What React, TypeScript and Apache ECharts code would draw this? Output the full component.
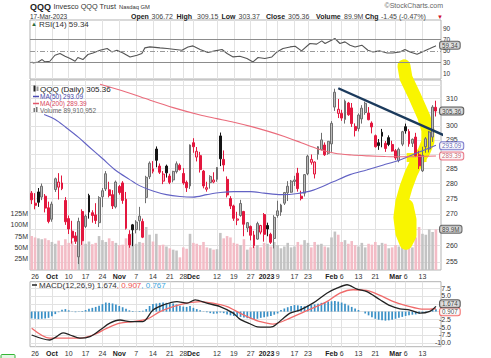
import React, { useEffect, useRef } from 'react';
import * as echarts from 'echarts';

const FONT = '"Liberation Sans", Arial, sans-serif';

// ---------- data ----------
const dates = ['9/23','9/26','9/27','9/28','9/29','9/30','10/3','10/4','10/5','10/6','10/7','10/10','10/11','10/12','10/13','10/14','10/17','10/18','10/19','10/20','10/21','10/24','10/25','10/26','10/27','10/28','10/31','11/1','11/2','11/3','11/4','11/7','11/8','11/9','11/10','11/11','11/14','11/15','11/16','11/17','11/18','11/21','11/22','11/23','11/25','11/28','11/29','11/30','12/1','12/2','12/5','12/6','12/7','12/8','12/9','12/12','12/13','12/14','12/15','12/16','12/19','12/20','12/21','12/22','12/23','12/27','12/28','12/29','12/30','1/3','1/4','1/5','1/6','1/9','1/10','1/11','1/12','1/13','1/17','1/18','1/19','1/20','1/23','1/24','1/25','1/26','1/27','1/30','1/31','2/1','2/2','2/3','2/6','2/7','2/8','2/9','2/10','2/13','2/14','2/15','2/16','2/17','2/21','2/22','2/23','2/24','2/27','2/28','3/1','3/2','3/3','3/6','3/7','3/8','3/9','3/10','3/13','3/14','3/15','3/16','3/17'];

const opens = [276.8,273.5,277.2,275.5,275.8,272.0,268.3,278.0,278.8,280.2,274.4,268.5,264.5,263.0,256.5,270.8,266.0,276.0,270.4,269.7,267.2,275.6,278.2,277.9,276.3,272.3,279.0,280.2,274.8,263.5,266.5,265.0,267.8,267.6,275.4,282.3,284.1,291.8,285.9,280.8,285.9,282.5,281.2,284.0,286.2,283.4,280.4,279.2,294.0,289.0,289.5,284.2,278.1,280.3,280.5,281.4,296.4,288.2,281.4,275.0,272.6,268.0,269.5,270.8,265.5,266.0,263.3,262.0,264.2,269.8,266.3,263.5,262.2,269.5,270.6,273.5,276.9,277.1,280.7,283.5,275.8,276.8,283.3,287.2,283.2,290.0,291.6,293.2,290.3,293.6,306.8,304.5,304.5,302.3,308.3,306.5,299.8,299.0,302.5,304.8,304.6,301.0,296.5,294.0,297.7,293.8,295.8,293.4,291.2,287.8,293.5,299.7,298.0,293.8,296.0,289.8,284.3,292.6,291.8,296.0,306.72];
const highs = [277.5,276.8,278.5,280.0,276.5,274.0,274.0,282.0,283.5,282.7,275.5,269.5,267.8,264.2,268.8,271.5,269.8,276.6,271.2,273.5,275.8,278.5,284.2,280.6,277.8,281.0,279.5,280.8,277.2,264.8,266.8,268.0,272.3,268.5,282.6,287.5,287.6,292.7,286.8,284.2,286.4,283.3,284.3,287.5,286.8,285.2,281.0,293.4,295.6,292.5,290.8,284.6,280.6,282.8,283.8,285.6,297.6,291.3,282.4,275.8,273.0,270.7,274.6,271.0,267.4,266.3,264.6,267.5,266.5,270.3,267.2,264.0,269.6,274.3,273.3,277.2,280.8,281.2,282.6,285.3,277.6,283.2,289.8,289.9,287.5,292.8,297.5,294.1,294.6,301.7,313.6,309.8,305.8,309.6,308.7,308.3,300.9,304.5,307.5,308.8,306.8,301.6,296.9,295.3,298.9,294.6,296.6,294.7,291.8,292.3,298.2,300.8,298.8,295.5,297.5,291.2,292.6,296.0,298.2,307.5,309.15];
const lows = [273.2,271.5,272.3,274.5,270.5,267.0,267.5,277.2,274.7,277.8,266.5,263.6,260.6,260.5,254.3,260.2,265.5,268.5,267.2,266.8,265.8,272.2,277.5,275.4,271.6,271.8,276.3,273.3,265.0,259.3,259.8,263.8,264.7,262.3,273.5,281.5,283.4,285.5,283.2,279.8,282.0,279.8,280.4,283.4,284.4,279.6,277.2,278.2,290.5,287.5,283.7,278.4,277.3,278.3,280.1,280.6,285.9,284.1,275.4,271.6,267.8,266.4,269.1,262.9,264.2,261.6,259.2,261.8,263.5,261.2,262.9,260.5,259.1,268.8,269.4,272.9,274.2,276.9,279.2,277.3,274.4,275.7,282.8,286.4,281.7,288.1,291.3,289.4,289.8,290.8,305.4,302.8,301.8,300.8,303.6,299.6,296.2,298.0,300.8,304.0,302.0,297.3,292.3,291.5,292.4,290.8,292.8,290.9,288.0,287.2,292.8,297.2,292.6,292.5,289.0,284.9,283.9,290.5,290.6,294.3,303.37];
const closes = [274.6,272.8,273.8,279.1,271.9,267.6,273.2,281.6,280.5,278.3,267.5,265.2,262.4,261.3,267.6,261.5,269.3,270.6,269.5,267.9,275.3,277.6,283.3,276.0,272.6,280.5,277.0,274.4,265.4,260.2,264.9,267.4,269.3,262.6,282.1,286.9,285.0,287.9,283.8,283.2,283.6,280.4,284.1,286.7,284.7,280.2,278.6,293.2,292.6,291.0,284.7,279.2,278.6,282.4,281.2,285.4,288.4,286.3,276.2,272.6,268.6,268.4,273.4,266.7,267.2,263.2,260.0,266.9,266.3,263.5,265.2,261.0,268.9,271.0,272.9,277.0,279.1,280.8,281.2,278.3,275.0,283.0,289.3,288.2,287.3,292.6,295.0,289.8,294.5,300.9,312.3,306.0,302.8,309.0,304.0,300.8,298.3,303.9,306.4,308.2,302.2,299.6,292.6,293.0,296.3,292.0,293.4,291.1,288.7,291.7,297.9,298.2,293.6,295.2,289.5,286.0,289.6,295.4,297.8,306.81,305.36];
// volume in millions
const volumes = [75,72,70,68,70,66,62,58,65,54,68,60,64,55,88,72,58,63,57,60,75,66,62,70,64,60,55,56,70,74,82,58,62,60,95,78,63,80,55,56,52,48,45,43,28,50,47,80,60,58,55,62,50,48,45,46,82,70,75,72,60,58,55,68,45,50,52,55,50,60,58,52,62,55,48,52,60,50,52,62,56,66,60,50,62,56,58,52,50,72,85,78,62,66,58,64,55,52,60,50,58,56,62,55,60,58,48,50,55,52,50,48,54,50,72,95,80,78,90,84,89.91];
const lastVolumeExact = 89910952;

// moving averages: [day index, price]
const ma50Points = [[3.7,304.1],[7,302.3],[10,299.6],[14,295.8],[17,292.6],[21,288.5],[25,284.4],[29,281.4],[32,279.3],[36,277.5],[40,276.3],[44,275.7],[48,275.5],[52,276.3],[56,277.0],[60,277.3],[65,277.3],[69,276.8],[74,276.3],[79,276.7],[83.6,277.8],[89.5,280.6],[94.5,283.0],[99.4,284.6],[104.4,286.3],[109.3,288.0],[114.3,290.4],[120,293.09]];
const ma200Points = [[20.3,315.3],[28,312.4],[35,309.4],[42,306.6],[50,303.9],[55,302.6],[60,301.3],[65,299.8],[70,298.1],[75,296.2],[80,294.0],[85,291.8],[90,290.3],[95,289.7],[100,289.4],[105,289.2],[110,289.1],[115,289.2],[120,289.39]];

const rsiPoints = [[0,30.4],[0.4,28.6],[1.9,30.4],[3.1,34.6],[3.9,30.4],[5.4,31.6],[6.9,42.3],[8.4,45.3],[9.9,40.5],[11.4,36.4],[12.9,31.6],[13.7,38.2],[15.2,34.6],[16.7,43.6],[18.2,46.4],[20.3,51.2],[22.4,54.3],[23.8,48.2],[25.3,51.2],[27.1,46.4],[29.2,39.3],[31.3,42.3],[32.7,45.3],[33.6,55.4],[35.1,57.1],[38.1,55.4],[40.2,54.3],[42,53],[44.6,51.2],[46.4,57.1],[47.9,58.9],[50,52.5],[52.3,47.1],[54.4,50],[56.5,52.5],[58,45.3],[59.8,39.3],[61.8,40.5],[63.9,36.4],[65.7,30.4],[67.2,38.2],[69.2,36.4],[71.3,39.3],[72.8,48.2],[74.6,54.3],[76.7,57.1],[78.2,58.4],[80.1,50],[82.6,63.2],[84.6,62],[86.1,67.9],[87.1,63.2],[90,72.1],[91.5,63.2],[93,66.1],[94.5,60.2],[96,57.1],[98,60.2],[99.8,51.2],[101.3,48.2],[103.4,50],[105.5,46.4],[107.2,46.4],[109.3,48.2],[110.8,52.5],[112.3,48.2],[114.4,44.1],[115.9,48.2],[118.2,54.3],[119.7,58.4],[120,59.34]];
const rsiLevels = [70, 50, 30];

const macdPoints = [[0,-7.5],[5.4,-9.1],[7.4,-8],[9.3,-6.8],[11.4,-7.5],[14.3,-8.5],[17.3,-8],[20.3,-5.9],[23.2,-3.7],[26.2,-2.7],[29.2,-3.2],[33,-3.2],[36,0.5],[39,2.1],[43.1,3.2],[46.1,2.7],[48.5,3.75],[52,2.7],[55.9,1.6],[59.8,-0.5],[61.8,-2.4],[64.8,-3.9],[67,-4.9],[69.5,-5.0],[71.6,-4.8],[72.8,-3.9],[76.7,-0.5],[79.6,0.5],[83.5,2.7],[87.6,5.9],[90.6,7.5],[93.6,8.6],[96.6,7.2],[99.5,6.4],[103.4,3.8],[106.4,1.9],[109.3,0.9],[112.3,0.5],[115.2,-0.5],[118.2,0.1],[120,1.674]];
const signalPoints = [[0,-5.3],[5.4,-8.5],[10.5,-8.5],[14.3,-8.5],[18.2,-7.5],[22.4,-5.3],[26.2,-3.7],[30.1,-3.2],[34.2,-2.4],[38.1,0],[42,1.6],[46.1,2.7],[50,3.2],[53.8,2.7],[58,1.6],[61.8,-0.5],[64.8,-2.0],[67.8,-3.2],[71.6,-4.0],[76.7,-2.1],[81.7,0.3],[87.6,3.2],[91.5,5.9],[95.4,7.0],[99.5,6.8],[103.4,5.2],[107.2,3.3],[111.4,1.8],[115.2,0.9],[118.2,0.8],[120,0.907]];
const histogram = [-2.2,-2.3,-2.4,-2.3,-2.2,-2.0,-1.5,-0.8,-0.2,0.6,0.8,0.4,0.1,-0.2,-0.1,0.2,0.5,0.9,1.2,1.5,1.9,2.4,2.9,2.8,2.6,2.3,1.8,1.4,0.9,0.4,0.2,0.1,0.2,0.3,0.8,1.8,2.4,2.6,2.8,2.9,2.8,2.7,2.6,2.3,1.9,1.6,1.5,1.8,1.2,0.8,0.4,0.1,-0.2,-0.5,-0.7,-0.6,-0.3,-0.5,-0.9,-1.2,-1.4,-1.6,-1.7,-1.9,-2.1,-2.3,-2.4,-2.3,-2.0,-1.8,-1.6,-1.4,-1.0,-0.6,0.5,1.0,1.4,1.8,2.1,2.0,1.8,1.7,1.9,2.1,2.3,2.5,2.8,3.0,3.2,3.3,3.4,3.2,2.9,2.5,2.0,1.5,1.0,0.5,0.0,-0.6,-1.2,-1.8,-2.3,-2.6,-2.8,-2.9,-2.8,-2.6,-2.3,-2.0,-1.7,-1.4,-1.2,-1.0,-0.9,-0.7,-0.5,-0.2,0.2,0.5,0.767];

// axis ticks
const tickDays = [1,6,11,16,21,26,31,36,41,45,48,55,60,65,69.7,73,78,82,89,92,97,102,108,111,116];
const tickLabels = ['26','Oct','10','17','24','Nov','7','14','21','28','Dec','12','19','27','2023','9','17','23','Feb','6','13','21','Mar','6','13'];
const boldLabels = ['Oct','Nov','Dec','2023','Feb','Mar'];
const priceGridTicks = [255,260,265,270,275,280,285,290,295,300,305,310,315];
const priceLabelTicks = [255,260,270,275,280,285,295,300,310];
const volumeTicks = [25,50,75,100,125];
const rsiTicks = [10,30,50,70,90];
const macdGridTicks = [-10,-7.5,-5,-2.5,0,2.5,5,7.5];
const macdLabelTicks = [-10,-7.5,-5,-2.5,5,7.5];

// annotations in data space: [day index, price]
const trendLine = [[91.0,313.8],[122.4,296.6]];
const highlightPath = [[110.5,322.3],[111.1,317.7],[113.8,310.5],[116.4,303.2],[117.6,298.5],[117.6,294.3],[116.4,290.8],[114.3,287.4],[112.6,283.3],[111.1,278.7],[109.9,274.0],[109.3,268.9],[109.9,263.8],[111.1,260.7],[112.3,263.2],[112.3,268.2],[111.4,272.7]];
const highlightBox = [[111.3,290.4],[117.2,287.3]];

// ---------- chart ----------
const LN_MAX = Math.log(316.9);
const LN_MIN = Math.log(252.5);
const ln = (p: number) => Math.log(p);

function labelFor(v: number) {
  let k = -1;
  tickDays.forEach((d, i) => { if (Math.abs(d - v) < 0.01) k = i; });
  if (k < 0) return '';
  const t = tickLabels[k];
  return boldLabels.indexOf(t) >= 0 ? '{m|' + t + '}' : t;
}

function buildOption() {
  const n = dates.length;
  const categories = dates.concat(['']);
  const xMax = categories.length - 0.5;

  const candleData = dates.map((_, i) => {
    const o = opens[i], c = closes[i];
    const prev = i > 0 ? closes[i - 1] : o;
    const down = c < prev;
    const hollow = c > o;
    let fill: string, border: string;
    if (!down) {
      if (hollow) { fill = '#bcbcbc'; border = '#6e6e6e'; } else { fill = '#151515'; border = '#151515'; }
    } else {
      if (hollow) { fill = '#f8c6cf'; border = '#e3173e'; } else { fill = '#e3173e'; border = '#e3173e'; }
    }
    return {
      value: [ln(o), ln(c), ln(lows[i]), ln(highs[i])],
      itemStyle: { color: fill, color0: fill, borderColor: border, borderColor0: border, borderColorDoji: border, borderWidth: 1 },
    };
  });

  const volumeData = volumes.map((v, i) => {
    const prev = i > 0 ? closes[i - 1] : opens[i];
    const down = closes[i] < prev;
    return { value: v, itemStyle: { color: down ? '#f3bcc6' : '#c3c3c3' } };
  });

  const valueX = (gridIndex: number, showLabels: boolean) => ({
    type: 'value', gridIndex, position: 'bottom', min: -0.5, max: xMax,
    axisLine: { show: false },
    axisTick: { show: false, customValues: tickDays },
    splitLine: { show: true, lineStyle: { color: '#e2e2e2', width: 1 } },
    axisLabel: showLabels ? {
      show: true, customValues: tickDays, formatter: (v: number) => labelFor(v),
      fontSize: 7, color: '#333', margin: 3, fontFamily: FONT,
      rich: { m: { fontWeight: 'bold', fontSize: 7, color: '#222', fontFamily: FONT } },
    } : { show: false },
  });
  const catX = (gridIndex: number) => ({
    type: 'category', gridIndex, position: 'top', data: categories, show: false, boundaryGap: true,
  });

  const lastClose = closes[n - 1];
  const lastMa50 = ma50Points[ma50Points.length - 1][1];
  const lastMa200 = ma200Points[ma200Points.length - 1][1];
  const lastRsi = rsiPoints[rsiPoints.length - 1][1];
  const lastMacd = macdPoints[macdPoints.length - 1][1];
  const lastSignal = signalPoints[signalPoints.length - 1][1];
  const lastHist = histogram[histogram.length - 1];

  const box = (text: string, color: string, border: string, bg: string, offset: number[] = [0, 0]) => ({
    show: true, position: 'right', distance: 4, formatter: text, offset,
    fontSize: 6.3, fontFamily: FONT, color, backgroundColor: bg, borderColor: border,
    borderWidth: 1, borderRadius: 2, padding: [0.5, 2, 0, 2], lineHeight: 6.5,
  });
  const boxSeries = (xAxisIndex: number, yAxisIndex: number, value: number, label: any, z = 8) => ({
    type: 'scatter', xAxisIndex, yAxisIndex, data: [[n - 1, value]], symbolSize: 0.1,
    itemStyle: { color: 'rgba(0,0,0,0)' }, label, silent: true, z, animation: false,
  });

  const chg = lastClose - closes[n - 2];
  const chgPct = (chg / closes[n - 2]) * 100;

  const txt = (text: string, x: number, y: number, size: number, fill: string, weight = 'normal', align = 'left') => ({
    type: 'text', x, y, silent: true, z: 100,
    style: { text, fill, fontSize: size, fontFamily: FONT, fontWeight: weight, align, verticalAlign: 'middle' },
  });

  const graphic: any[] = [
    txt('QQQ', 30, 6.5, 9, '#222', 'bold'),
    txt('Invesco QQQ Trust', 53.5, 6.5, 7.3, '#333'),
    txt('Nasdaq GM', 119, 7, 5.8, '#333'),
    txt('\u00A9StockCharts.com', 443, 5.5, 7, '#666', 'normal', 'right'),
    txt('17-Mar-2023', 30, 16, 6.5, '#333'),
    txt('Open', 131, 16, 7, '#222', 'bold'),
    txt(opens[n - 1].toFixed(2), 151.5, 16, 7, '#444'),
    txt('High', 176.5, 16, 7, '#222', 'bold'),
    txt(highs[n - 1].toFixed(2), 197, 16, 7, '#444'),
    txt('Low', 221.5, 16, 7, '#222', 'bold'),
    txt(lows[n - 1].toFixed(2), 238.5, 16, 7, '#444'),
    txt('Close', 266, 16, 7, '#222', 'bold'),
    txt(lastClose.toFixed(2), 288, 16, 7, '#444'),
    txt('Volume', 316, 16, 7, '#222', 'bold'),
    txt(volumes[n - 1].toFixed(1) + 'M', 344, 16, 7, '#444'),
    txt('Chg', 365, 16, 7, '#222', 'bold'),
    txt(chg.toFixed(2) + ' (' + chgPct.toFixed(2) + '%)', 381, 16, 7, '#444'),
    txt('\u25BC', 437, 16.5, 6, '#d0102c'),
    // RSI legend
    txt('\u25B2', 31, 24, 6, '#2e6b3a'),
    txt('RSI(14) ' + lastRsi.toFixed(2), 39, 24.5, 8, '#333'),
    // price legend
    { type: 'rect', shape: { x: 33.5, y: 85.5, width: 2, height: 6 }, style: { fill: '#222' }, silent: true, z: 100 },
    { type: 'rect', shape: { x: 36.5, y: 86.5, width: 2, height: 4.5 }, style: { fill: '#999' }, silent: true, z: 100 },
    txt('QQQ (Daily) ' + lastClose.toFixed(2), 40, 89.5, 8, '#222'),
    { type: 'line', shape: { x1: 33, y1: 96.5, x2: 39, y2: 96.5 }, style: { stroke: '#4b4bb3', lineWidth: 1.5 }, silent: true, z: 100 },
    txt('MA(50) ' + lastMa50.toFixed(2), 40, 96.5, 6.5, '#4545a8'),
    { type: 'line', shape: { x1: 33, y1: 103.5, x2: 39, y2: 103.5 }, style: { stroke: '#e2566a', lineWidth: 1.5 }, silent: true, z: 100 },
    txt('MA(200) ' + lastMa200.toFixed(2), 40, 103.5, 6.5, '#d9475c'),
    { type: 'rect', shape: { x: 33.5, y: 108, width: 1.5, height: 4 }, style: { fill: '#777' }, silent: true, z: 100 },
    { type: 'rect', shape: { x: 36, y: 107, width: 1.5, height: 5 }, style: { fill: '#777' }, silent: true, z: 100 },
    txt('Volume ' + lastVolumeExact.toLocaleString('en-US'), 40, 110.5, 6.5, '#666'),
    // MACD legend
    { type: 'line', shape: { x1: 32, y1: 285, x2: 37, y2: 285 }, style: { stroke: '#222', lineWidth: 1.5 }, silent: true, z: 100 },
    {
      type: 'text', x: 39, y: 285, silent: true, z: 100,
      style: {
        text: '{a|MACD(12,26,9) ' + lastMacd.toFixed(3) + '}{b|, ' + lastSignal.toFixed(3) + '}{c|, ' + lastHist.toFixed(3) + '}',
        fontSize: 8, fontFamily: FONT, verticalAlign: 'middle',
        rich: {
          a: { fill: '#333', fontSize: 8, fontFamily: FONT },
          b: { fill: '#f0504f', fontSize: 8, fontFamily: FONT },
          c: { fill: '#39a6e0', fontSize: 8, fontFamily: FONT },
        },
      },
    },
    { type: 'rect', shape: { x: 1, y: 354.5, width: 14, height: 8, r: 1 }, style: { fill: '#e4f7e4', stroke: '#35b535', lineWidth: 1 }, silent: true, z: 100 },
  ];

  const gridBase = { left: 30, right: 50, show: true, borderColor: '#b3b3b3', borderWidth: 1, backgroundColor: '#fff', containLabel: false, outerBoundsMode: 'none' };

  return {
    animation: false,
    backgroundColor: '#fff',
    textStyle: { fontFamily: FONT },
    grid: [
      { ...gridBase, top: 20, height: 59 },
      { ...gridBase, top: 80, height: 190 },
      { ...gridBase, top: 281.7, height: 65 },
    ],
    xAxis: [
      valueX(0, false),
      catX(1),
      valueX(1, true),
      catX(2),
      valueX(2, true),
    ],
    yAxis: [
      {
        type: 'value', gridIndex: 0, position: 'right', min: 0, max: 105,
        axisLine: { show: false }, axisTick: { show: false, customValues: rsiTicks }, splitLine: { show: false },
        axisLabel: { customValues: rsiTicks, fontSize: 6.5, color: '#333', margin: 2, fontFamily: FONT },
      },
      {
        type: 'value', gridIndex: 1, position: 'right', min: LN_MIN, max: LN_MAX,
        axisLine: { show: false }, axisTick: { show: false, customValues: priceGridTicks.map(ln) },
        splitLine: { show: true, lineStyle: { color: '#e2e2e2', width: 1 } },
        axisLabel: {
          customValues: priceLabelTicks.map(ln), formatter: (v: number) => String(Math.round(Math.exp(v))),
          fontSize: 7, color: '#333', margin: 5, fontFamily: FONT,
        },
      },
      {
        type: 'value', gridIndex: 1, position: 'left', min: 0, max: 420,
        axisLine: { show: false }, axisTick: { show: false, customValues: volumeTicks }, splitLine: { show: false },
        axisLabel: { customValues: volumeTicks, formatter: (v: number) => v + 'M', fontSize: 7, color: '#333', margin: 2, fontFamily: FONT },
      },
      {
        type: 'value', gridIndex: 2, position: 'right', min: -11.25, max: 9.58,
        axisLine: { show: false }, axisTick: { show: false, customValues: macdGridTicks },
        splitLine: { show: true, lineStyle: { color: '#e2e2e2', width: 1 } },
        axisLabel: { customValues: macdLabelTicks, formatter: (v: number) => v.toFixed(1), fontSize: 7, color: '#333', margin: 10, align: 'right', fontFamily: FONT },
      },
    ],
    series: [
      { name: 'Volume', type: 'bar', xAxisIndex: 1, yAxisIndex: 2, data: volumeData, barWidth: 2.6, z: 1, silent: true },
      {
        name: 'highlight', type: 'line', xAxisIndex: 2, yAxisIndex: 1,
        data: highlightPath.map(([j, p]) => [j, ln(p)]), symbol: 'none', clip: false, silent: true, z: 2,
        lineStyle: { color: '#f9f500', width: 13, cap: 'round', join: 'round' },
        markArea: {
          silent: true, itemStyle: { color: '#f9f500' },
          data: [[{ xAxis: highlightBox[0][0], yAxis: ln(highlightBox[0][1]) }, { xAxis: highlightBox[1][0], yAxis: ln(highlightBox[1][1]) }]],
        },
      },
      { name: 'QQQ', type: 'candlestick', xAxisIndex: 1, yAxisIndex: 1, data: candleData, barWidth: 2.4, z: 3, silent: true },
      {
        name: 'MA50', type: 'line', xAxisIndex: 2, yAxisIndex: 1, data: ma50Points.map(([j, p]) => [j, ln(p)]),
        symbol: 'none', smooth: 0.3, lineStyle: { color: '#6262c4', width: 1.1 }, z: 4, silent: true,
      },
      {
        name: 'MA200', type: 'line', xAxisIndex: 2, yAxisIndex: 1, data: ma200Points.map(([j, p]) => [j, ln(p)]),
        symbol: 'none', smooth: 0.3, lineStyle: { color: '#ea6c7c', width: 1.1 }, z: 4, silent: true,
      },
      {
        name: 'trend', type: 'line', xAxisIndex: 2, yAxisIndex: 1, data: trendLine.map(([j, p]) => [j, ln(p)]),
        symbol: 'none', clip: false, lineStyle: { color: '#1b3a5c', width: 2.4 }, z: 5, silent: true,
      },
      boxSeries(2, 1, ln(lastMa200), box(lastMa200.toFixed(2), '#b23a4c', '#e2566a', '#fff')),
      boxSeries(2, 1, ln(lastMa50), box(lastMa50.toFixed(2), '#3a3a9a', '#5b5bc0', '#fff', [0, 0.5])),
      boxSeries(2, 1, ln(lastClose), box(lastClose.toFixed(2), '#111', '#333', '#d8d8d8')),
      boxSeries(2, 2, volumes[n - 1], box(volumes[n - 1].toFixed(1) + 'M', '#111', '#444', '#cfcfcf')),
      {
        name: 'RSI', type: 'line', xAxisIndex: 0, yAxisIndex: 0, data: rsiPoints, symbol: 'none',
        lineStyle: { color: '#555', width: 1.1 }, z: 1, silent: true,
        markLine: {
          silent: true, symbol: ['none', 'none'], label: { show: false },
          lineStyle: { color: '#8c8c8c', width: 1, type: 'solid' },
          data: rsiLevels.map((lv) => (lv === 50 ? { yAxis: lv, lineStyle: { type: [5, 2, 1, 2], color: '#9a9a9a', width: 1 } } : { yAxis: lv })),
        },
      },
      boxSeries(0, 0, lastRsi, box(lastRsi.toFixed(2), '#111', '#444', '#d8d8d8', [0, -0.5])),
      { name: 'Histogram', type: 'bar', xAxisIndex: 3, yAxisIndex: 3, data: histogram, barWidth: 1.7, itemStyle: { color: '#3a90c6' }, z: 2, silent: true },
      { name: 'Signal', type: 'line', xAxisIndex: 4, yAxisIndex: 3, data: signalPoints, symbol: 'none', smooth: 0.3, lineStyle: { color: '#f06a6a', width: 1.3 }, z: 3, silent: true },
      { name: 'MACD', type: 'line', xAxisIndex: 4, yAxisIndex: 3, data: macdPoints, symbol: 'none', smooth: 0.3, lineStyle: { color: '#222', width: 1.3 }, z: 4, silent: true },
      boxSeries(4, 3, lastSignal, box(lastSignal.toFixed(3), '#111', '#f0504f', '#fff', [0, 3])),
      boxSeries(4, 3, lastMacd, box(lastMacd.toFixed(3), '#111', '#333', '#d8d8d8', [0, -2.5])),
    ],
    graphic,
  };
}

export default function App() {
  const ref = useRef<HTMLDivElement>(null);
  useEffect(() => {
    if (!ref.current) return;
    const chart = echarts.init(ref.current, null, { renderer: 'svg' });
    chart.setOption(buildOption() as any);
    return () => chart.dispose();
  }, []);
  return <div ref={ref} style={{ position: 'fixed', left: 0, top: 0, width: 491, height: 358, background: '#fff' }} />;
}
